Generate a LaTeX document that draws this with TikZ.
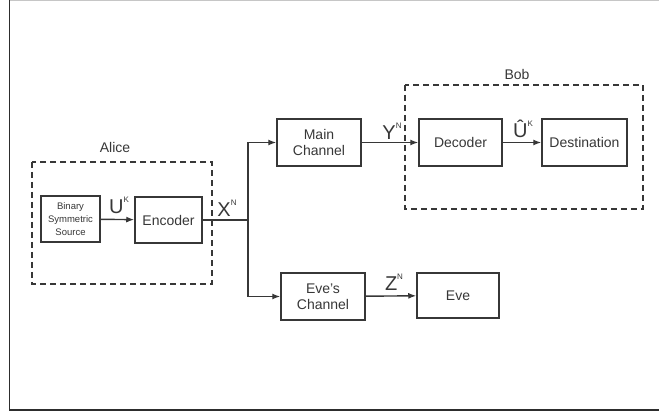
\documentclass[tikz,border=0pt]{standalone}
\usepackage{tikz}
\usetikzlibrary{positioning,arrows.meta}
\usepackage{fontspec}
\setmainfont{Liberation Sans}
\definecolor{linegray}{RGB}{55,55,55}
\definecolor{framegray}{RGB}{45,45,45}

\tikzset{
  block/.style={draw=linegray,line width=1.5pt,fill=white,text=linegray,
                font=\fontsize{14}{16}\selectfont,align=center,
                inner sep=0pt,minimum height=47pt},
  groupbox/.style={draw=linegray,line width=1.5pt,dash pattern=on 6pt off 4pt},
  flow/.style={draw=linegray,line width=1.4pt,-{Latex[length=8pt,width=6pt]}},
  sig/.style={text=linegray,font=\fontsize{20}{21}\selectfont,inner sep=0pt},
  party/.style={text=linegray,font=\fontsize{14}{16}\selectfont,inner sep=0pt}
}
\newcommand{\supK}[1]{\raisebox{1.05ex}{\fontsize{8}{8}\selectfont #1}}

\begin{document}
\begin{tikzpicture}[x=1pt,y=-1pt]
  \useasboundingbox (0,0) rectangle (659,414);
  % frame of the figure
  \draw[gray!45,line width=1pt] (9.5,0.5) -- (659,0.5);
  \draw[framegray,line width=1.6pt] (9.5,0) -- (9.5,410) -- (659,410);

  % Alice
  \draw[groupbox] (32,162) rectangle (212,284);
  \node[party] (alice) at (115,147) {Alice};
  \node[block,minimum width=59pt,minimum height=46pt,
        font=\fontsize{9.5}{13}\selectfont] (bss) at (70.5,219)
    {Binary\\Symmetric\\Source};
  \node[block,minimum width=67pt,minimum height=46pt] (enc) at (168.5,220) {Encoder};

  % channels
  \node[block,minimum width=84pt] (mainch) at (319,142.5) {Main\\Channel};
  \node[block,minimum width=84pt] (evech) at (323,296.5) {Eve's\\Channel};

  % Bob
  \draw[groupbox] (405,85) rectangle (643,209);
  \node[party] (bob) at (517,74) {Bob};
  \node[block,minimum width=83pt] (dec) at (460.5,142.5) {Decoder};
  \node[block,minimum width=85pt] (dest) at (584.5,142.5) {Destination};

  % Eve
  \node[block,minimum width=82pt,minimum height=45pt] (eve) at (458,295.5) {Eve};

  % connectors
  \coordinate (split) at (248,220);
  \draw[flow] (bss) -- (enc);
  \draw[draw=linegray,line width=1.4pt] (enc.east) -- (split);
  \draw[flow] (split) |- (mainch.west);
  \draw[flow] (split) |- (evech.west);
  \draw[flow] (mainch) -- (dec);
  \draw[flow] (dec) -- (dest);
  \draw[flow] (evech) -- (eve);

  % signal labels
  \node[sig] (uk) at (119,205) {U\supK{K}};
  \node[sig] (xn) at (227,208) {X\supK{N}};
  \node[sig] (yn) at (392,131) {Y\supK{N}};
  \node[sig] (uhat) at (523,129) {Û\supK{K}};
  \node[sig] (zn) at (394,282) {Z\supK{N}};
\end{tikzpicture}
\end{document}
